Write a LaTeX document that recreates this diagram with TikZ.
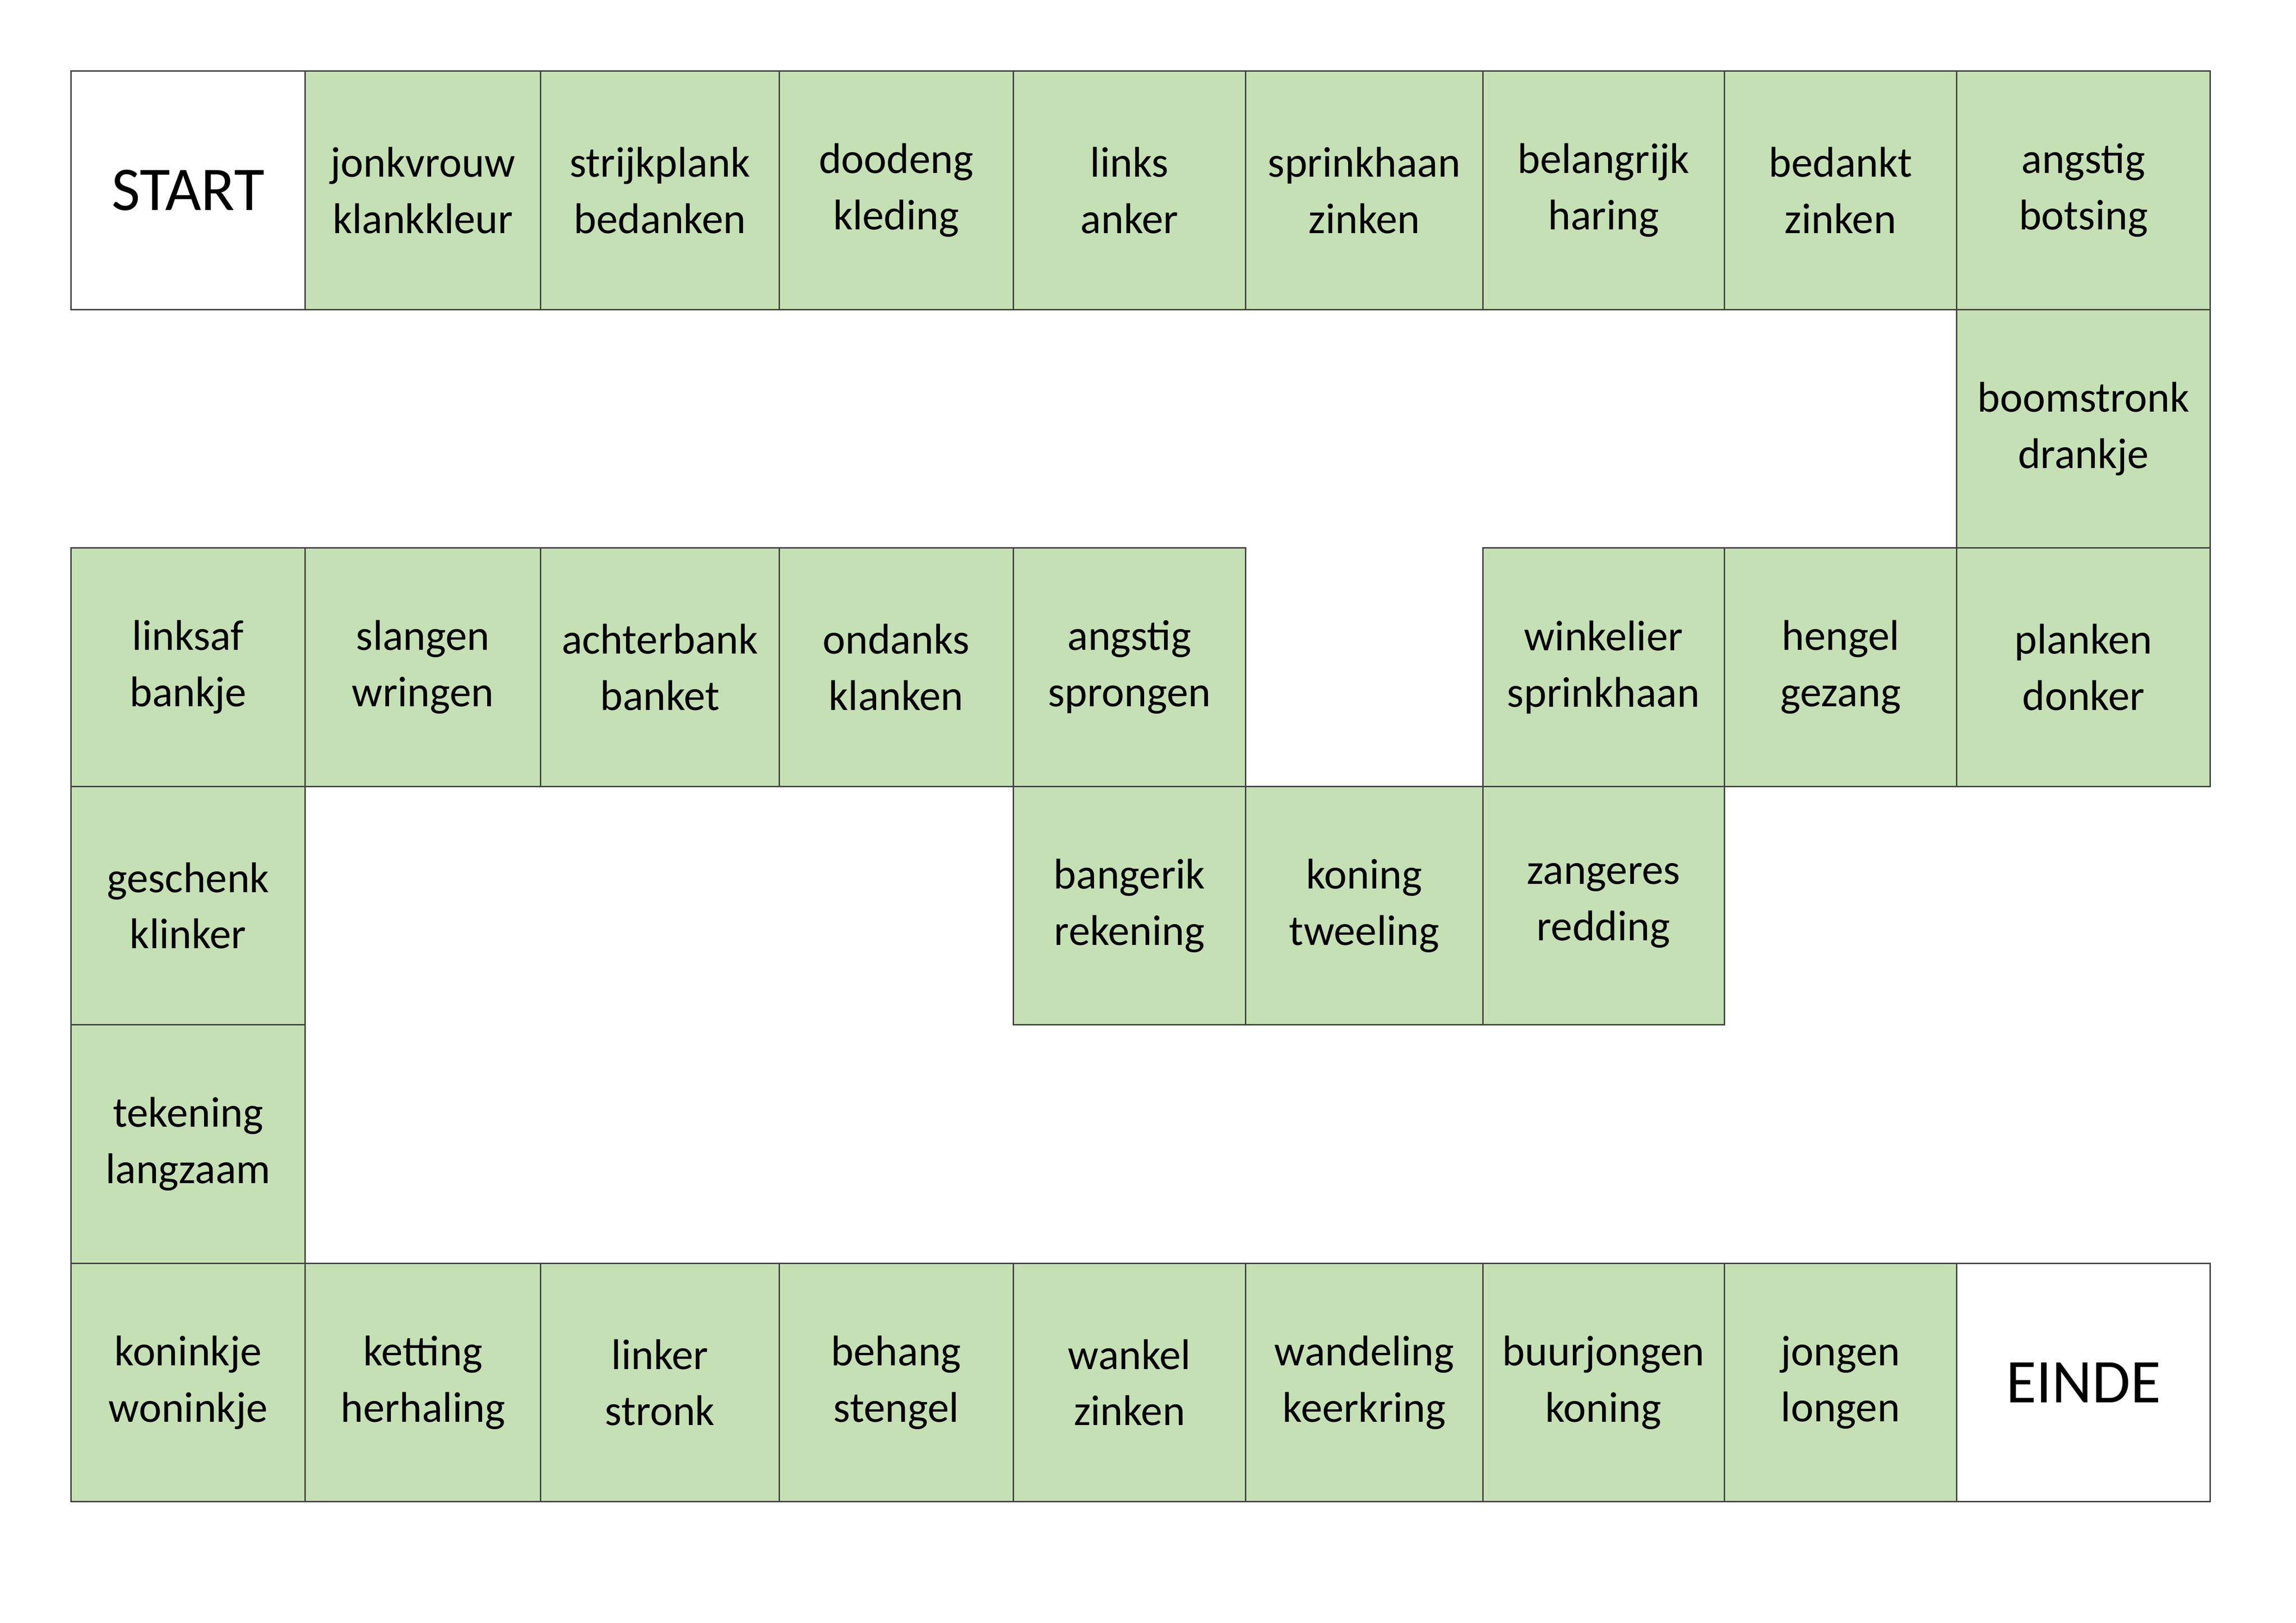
\documentclass[tikz,border=0pt]{standalone}
\usepackage{fontspec}
\setmainfont{Carlito}
\definecolor{cellgreen}{HTML}{C5E0B4}
\definecolor{cellline}{HTML}{404040}
\begin{document}
\begin{tikzpicture}[x=1pt,y=1pt,
  cell/.style={draw=cellline,line width=0.9pt,fill=cellgreen},
  wcell/.style={draw=cellline,line width=0.9pt,fill=white},
  txt/.style={align=center,font=\fontsize{29}{38}\selectfont,text=black},
  big/.style={font=\fontsize{42}{50}\selectfont,text=black}]
\useasboundingbox (0,0) rectangle (1550,-1095.6);
\def\xs{{48,206,365,526,684,841,1001,1164,1321,1492}}
\def\ys{{48,209,370,531,692,853,1014}}
\newcommand\cellat[4]{% col,row,style,text
  \pgfmathsetmacro\xa{\xs[#1]}\pgfmathsetmacro\xb{\xs[#1+1]}%
  \pgfmathsetmacro\ya{\ys[#2]}\pgfmathsetmacro\yb{\ys[#2+1]}%
  \draw[#3] (\xa,-\ya) rectangle (\xb,-\yb);
  \node[txt] (c#1r#2) at ({(\xa+\xb)/2},{-(\ya+\yb)/2}) {#4};}
\cellat{0}{0}{wcell}{\fontsize{42}{50}\selectfont START}
\cellat{1}{0}{cell}{jonkvrouw\\klankkleur}
\cellat{2}{0}{cell}{strijkplank\\bedanken}
\cellat{3}{0}{cell}{doodeng\\kleding}
\cellat{4}{0}{cell}{links\\anker}
\cellat{5}{0}{cell}{sprinkhaan\\zinken}
\cellat{6}{0}{cell}{belangrijk\\haring}
\cellat{7}{0}{cell}{bedankt\\zinken}
\cellat{8}{0}{cell}{angstig\\botsing}
\cellat{8}{1}{cell}{boomstronk\\drankje}
\cellat{0}{2}{cell}{linksaf\\bankje}
\cellat{1}{2}{cell}{slangen\\wringen}
\cellat{2}{2}{cell}{achterbank\\banket}
\cellat{3}{2}{cell}{ondanks\\klanken}
\cellat{4}{2}{cell}{angstig\\sprongen}
\cellat{6}{2}{cell}{winkelier\\sprinkhaan}
\cellat{7}{2}{cell}{hengel\\gezang}
\cellat{8}{2}{cell}{planken\\donker}
\cellat{0}{3}{cell}{geschenk\\klinker}
\cellat{4}{3}{cell}{bangerik\\rekening}
\cellat{5}{3}{cell}{koning\\tweeling}
\cellat{6}{3}{cell}{zangeres\\redding}
\cellat{0}{4}{cell}{tekening\\langzaam}
\cellat{0}{5}{cell}{koninkje\\woninkje}
\cellat{1}{5}{cell}{ketting\\herhaling}
\cellat{2}{5}{cell}{linker\\stronk}
\cellat{3}{5}{cell}{behang\\stengel}
\cellat{4}{5}{cell}{wankel\\zinken}
\cellat{5}{5}{cell}{wandeling\\keerkring}
\cellat{6}{5}{cell}{buurjongen\\koning}
\cellat{7}{5}{cell}{jongen\\longen}
\cellat{8}{5}{wcell}{\fontsize{42}{50}\selectfont EINDE}
\end{tikzpicture}
\end{document}
